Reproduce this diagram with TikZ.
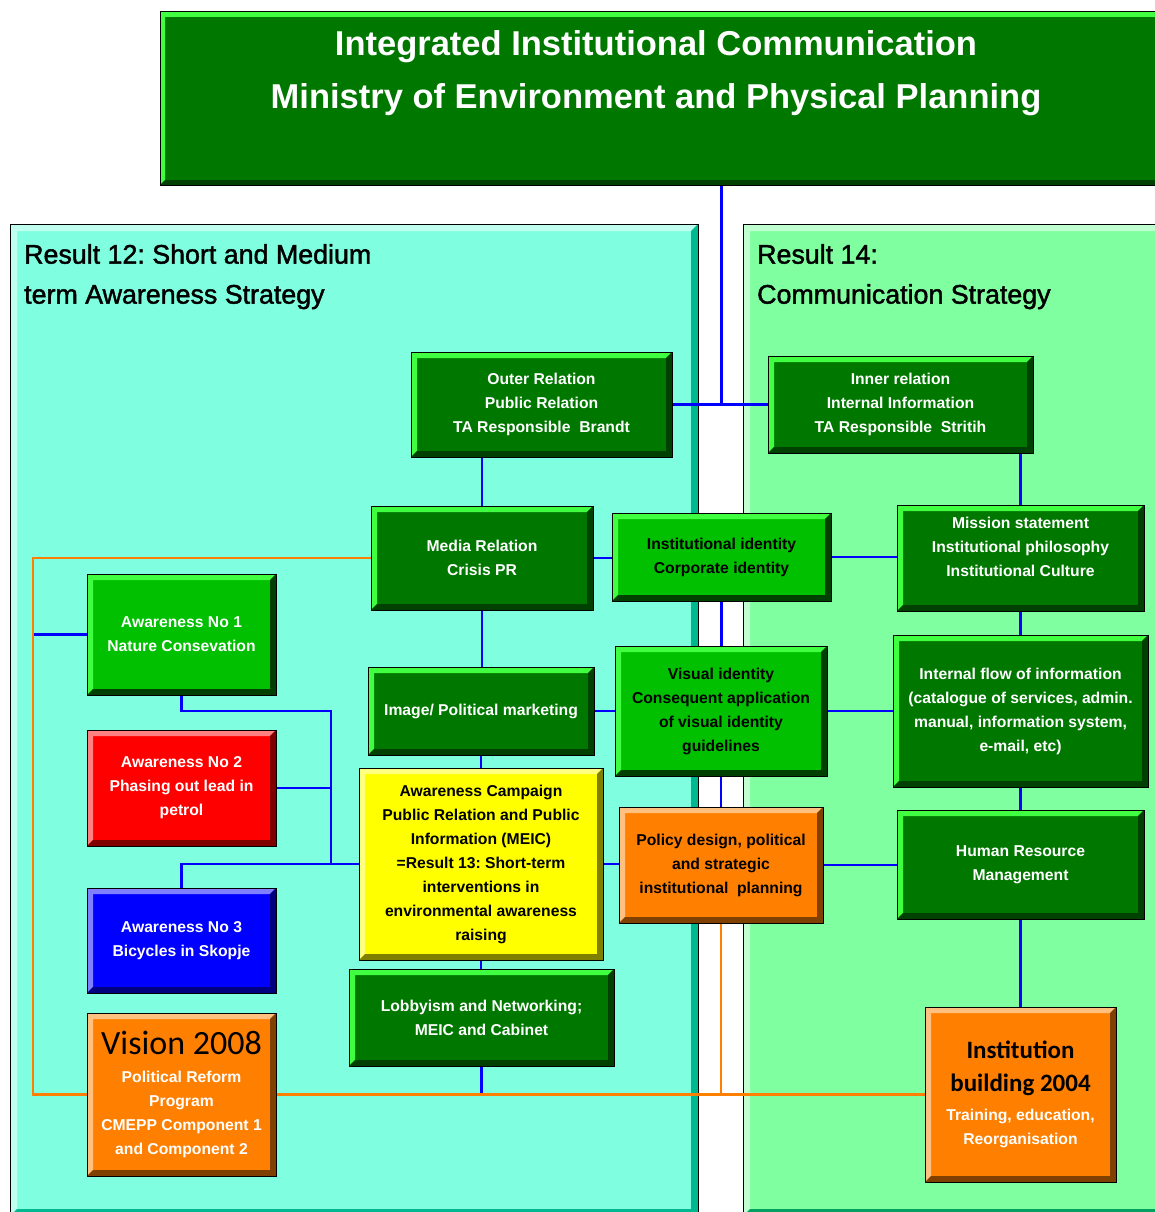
\documentclass[tikz,border=0pt]{standalone}
\usepackage{fontspec}
\setmainfont{Liberation Sans}
\newfontfamily\carlito{Carlito}
\newfontfamily\headfont[FakeBold=1.6]{Liberation Sans}
\frenchspacing

\definecolor{dkgreen}{HTML}{007800}
\definecolor{brgreen}{HTML}{00C000}
\definecolor{ltgreen}{HTML}{40FF40}
\definecolor{shgreen}{HTML}{004000}
\definecolor{rdfill}{HTML}{FF0000}
\definecolor{rdlt}{HTML}{FF8080}
\definecolor{rddk}{HTML}{800000}
\definecolor{blfill}{HTML}{0000FF}
\definecolor{bllt}{HTML}{8080FF}
\definecolor{bldk}{HTML}{000080}
\definecolor{ylfill}{HTML}{FFFF00}
\definecolor{yllt}{HTML}{FFFF80}
\definecolor{yldk}{HTML}{808000}
\definecolor{orfill}{HTML}{FF8000}
\definecolor{orlt}{HTML}{FFC080}
\definecolor{ordk}{HTML}{804000}
\definecolor{aqua}{HTML}{80FFE0}
\definecolor{aqualt}{HTML}{C0FFF0}
\definecolor{aquadk}{HTML}{00B890}
\definecolor{mint}{HTML}{80FFA0}
\definecolor{mintlt}{HTML}{C0FFD0}
\definecolor{mintdk}{HTML}{00A060}
\definecolor{linkblue}{HTML}{0000FF}
\definecolor{linkorange}{HTML}{FF8000}

\pgfdeclarelayer{bg}
\pgfdeclarelayer{links}
\pgfsetlayers{bg,links,main}

\newcommand{\bevw}{6pt}
\newcommand{\instfont}{\color{black}\carlito\fontsize{25}{25}\selectfont}

\tikzset{
  bevel width/.code={\renewcommand{\bevw}{#1}},
  bevel/.style n args={3}{fill=#1, draw=black, line width=1pt,
    path picture={
      \fill[#2] (path picture bounding box.south west) -- (path picture bounding box.north west)
        -- (path picture bounding box.north east) -- ([shift={(-\bevw,-\bevw)}]path picture bounding box.north east)
        -- ([shift={(\bevw,-\bevw)}]path picture bounding box.north west)
        -- ([shift={(\bevw,\bevw)}]path picture bounding box.south west) -- cycle;
      \fill[#3] (path picture bounding box.south west) -- (path picture bounding box.south east)
        -- (path picture bounding box.north east) -- ([shift={(-\bevw,-\bevw)}]path picture bounding box.north east)
        -- ([shift={(-\bevw,\bevw)}]path picture bounding box.south east)
        -- ([shift={(\bevw,\bevw)}]path picture bounding box.south west) -- cycle;
    }},
  wh/.style 2 args={minimum width=#1pt, minimum height=#2pt},
  box/.style={rectangle, align=center, inner sep=2pt, font=\bfseries\fontsize{15.7}{24}\selectfont},
  dgbox/.style={box, bevel={dkgreen}{ltgreen}{shgreen}, text=white},
  bgbox/.style={box, bevel={brgreen}{ltgreen}{shgreen}, text=black},
  rdbox/.style={box, bevel={rdfill}{rdlt}{rddk}, text=white},
  blbox/.style={box, bevel={blfill}{bllt}{bldk}, text=white},
  ylbox/.style={box, bevel={ylfill}{yllt}{yldk}, text=black},
  orbox/.style={box, bevel={orfill}{orlt}{ordk}, text=black},
  heading/.style={anchor=north west, inner sep=0pt, align=left, font=\headfont\fontsize{26.8}{40}\selectfont},
  blink/.style={draw=linkblue, line width=2.2pt},
  olink/.style={draw=linkorange, line width=2.2pt},
}

\begin{document}
\begin{tikzpicture}[x=1pt, y=-1pt]
\useasboundingbox (0,0) rectangle (1154,1212);

% the two result panels
\begin{pgfonlayer}{bg}
  \fill[white] (0,0) rectangle (1154,1212);
  \path[bevel={aqua}{aqualt}{aquadk}, bevel width=7pt] (10,224) rectangle (698,1216);
  \path[bevel={mint}{mintlt}{mintdk}, bevel width=7pt] (743,224) rectangle (1175,1216);
\end{pgfonlayer}

\node[dgbox, wh={1005}{173}, bevel width=5pt] (title) at (662.5,98.5) {};
\node[text=white, align=center, font=\bfseries\fontsize{34.5}{53}\selectfont] (titletext) at (656,73) {Integrated Institutional Communication\\Ministry of Environment and Physical Planning};

\node[heading] (headA) at (24,244) {Result 12: Short and Medium\\term Awareness Strategy};
\node[heading] (headB) at (757,244) {Result 14:\\Communication Strategy};

% boxes
\node[dgbox, wh={261}{105}] (outer) at (541.5,404.5) {Outer Relation\\Public Relation\\TA Responsible\ \ Brandt};
\node[dgbox, wh={265}{97}] (inner) at (900.5,404.5) {Inner relation\\Internal Information\\TA Responsible\ \ Stritih};
\node[dgbox, wh={222}{104}] (media) at (482,558) {Media Relation\\Crisis PR};
\node[bgbox, wh={219}{88}] (instid) at (721.5,557) {Institutional identity\\Corporate identity};
\node[dgbox, wh={247}{106}] (mission) at (1020.5,558) {Mission statement\\Institutional philosophy\\Institutional Culture\\[-2pt]\mbox{}};
\node[bgbox, text=white, wh={189}{121}] (aw1) at (181.5,634.5) {Awareness No 1\\Nature Consevation};
\node[dgbox, wh={226}{88}] (image) at (481,711) {Image/ Political marketing};
\node[bgbox, wh={212}{130}] (visual) at (721,711) {Visual identity\\Consequent application\\of visual identity\\guidelines};
\node[dgbox, wh={255}{152}] (intflow) at (1020.5,711) {Internal flow of information\\(catalogue of services, admin.\\manual, information system,\\e-mail, etc)};
\node[rdbox, wh={189}{116}] (aw2) at (181.5,788) {Awareness No 2\\Phasing out lead in\\petrol};
\node[ylbox, wh={244}{192}] (campaign) at (481,864) {Awareness Campaign\\Public Relation and Public\\Information (MEIC)\\=Result 13: Short-term\\interventions in\\environmental awareness\\raising};
\node[orbox, wh={204}{116}] (policy) at (721,865) {Policy design, political\\and strategic\\institutional\ \ planning};
\node[dgbox, wh={247}{109}] (hr) at (1020.5,864.5) {Human Resource\\Management};
\node[blbox, wh={189}{105}] (aw3) at (181.5,940.5) {Awareness No 3\\Bicycles in Skopje};
\node[dgbox, wh={265}{97}] (lobby) at (481.5,1017.5) {Lobbyism and Networking;\\MEIC and Cabinet};
\node[orbox, text=white, wh={189}{163}] (vision) at (181.5,1094.5) {{\color{black}\carlito\mdseries\fontsize{34}{34}\selectfont Vision 2008}\\[4pt]Political Reform\\Program\\CMEPP Component 1\\and Component 2};
\node[orbox, text=white, wh={191}{175}] (instb) at (1020.5,1094.5) {{\instfont Institution}\\[9pt]{\instfont building 2004}\\[5pt]Training, education,\\Reorganisation};

\coordinate (bus) at (331,711);
\coordinate (ocorner) at (33,558);

% connectors
\begin{pgfonlayer}{links}
  \draw[blink] (title.south -| instid.north) -- (outer.east -| instid.north);
  \draw[blink] (outer.east) -- (inner.west);
  \draw[blink] (media.north |- outer.south) -- (media.north);
  \draw[blink] (mission.north |- inner.south) -- (mission.north);
  \draw[blink] (media.east) -- (media.east -| instid.west);
  \draw[blink] (instid.east) -- (instid.east -| mission.west);
  \draw[blink] (instid.south) -- (instid.south |- visual.north);
  \draw[blink] (media.south) -- (media.south |- image.north);
  \draw[blink] (image.east) -- (visual.west);
  \draw[blink] (visual.east) -- (intflow.west);
  \draw[blink] (mission.south) -- (intflow.north);
  \draw[blink] (image.south) -- (campaign.north);
  \draw[blink] (visual.south) -- (visual.south |- policy.north);
  \draw[blink] (campaign.east) -- (campaign.east -| policy.west);
  \draw[blink] (policy.east) -- (policy.east -| hr.west);
  \draw[blink] (intflow.south) -- (intflow.south |- hr.north);
  \draw[blink] (hr.south) -- (instb.north);
  \draw[blink] (campaign.south) -- (campaign.south |- lobby.north);
  \draw[blink] (lobby.south) -- (lobby.south |- vision.east);
  \draw[blink] (aw1.south) |- (bus) -- (bus |- campaign.west);
  \draw[blink] (aw2.east) -- (aw2.east -| bus);
  \draw[blink] (aw3.north) |- (campaign.west);
  \draw[blink] (ocorner |- aw1.west) -- (aw1.west);
  \draw[olink] (media.west) -- (ocorner) |- (vision.west);
  \draw[olink] (vision.east) -- (vision.east -| instb.west);
  \draw[olink] (policy.south) -- (policy.south |- vision.east);
\end{pgfonlayer}
\end{tikzpicture}
\end{document}
